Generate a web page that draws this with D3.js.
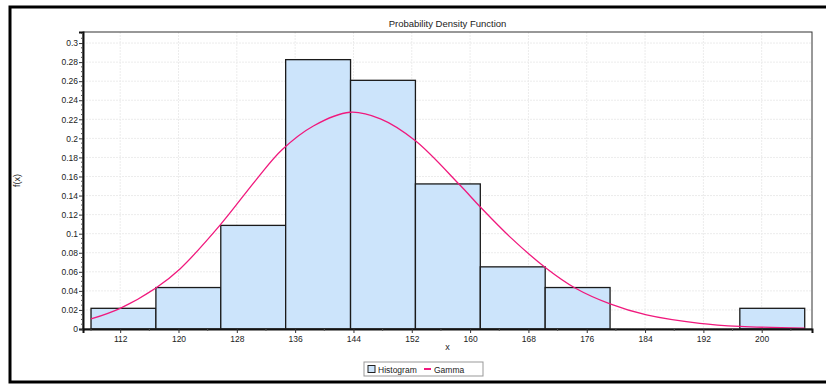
<!DOCTYPE html>
<html>
<head>
<meta charset="utf-8">
<script src="https://cdn.jsdelivr.net/npm/d3@7"></script>
<style>
  body { margin: 0; background: #fff; }
  svg text { font-family: "Liberation Sans", Arial, sans-serif; fill: #222; }
</style>
</head>
<body>
<div id="chart"></div>
<script>
// histogram bins (relative frequency) and fitted gamma curve
var binEdges = [108.0, 116.9, 125.8, 134.7, 143.6, 152.5, 161.4, 170.3, 179.2, 188.1, 197.0, 205.9];
var binValues = [0.0217, 0.0435, 0.1087, 0.2826, 0.2609, 0.1522, 0.0652, 0.0435, 0, 0, 0.0217];

var gammaX = [108.0, 112.0, 116.9, 120.2, 125.7, 130.7, 134.2, 138.5, 143.5, 147.7, 152.5, 158.6, 161.4, 165.5, 170.4, 174.4, 179.2, 184.2, 191.5, 197.0, 205.9];
var gammaY = [0.0105, 0.0217, 0.043, 0.063, 0.109, 0.157, 0.188, 0.213, 0.2274, 0.2205, 0.1975, 0.151, 0.128, 0.0964, 0.064, 0.043, 0.0263, 0.0147, 0.0059, 0.0027, 0.001];

var xTicks = [112, 120, 128, 136, 144, 152, 160, 168, 176, 184, 192, 200];
var yTicks = [0, 0.02, 0.04, 0.06, 0.08, 0.1, 0.12, 0.14, 0.16, 0.18, 0.2, 0.22, 0.24, 0.26, 0.28, 0.3];

var W = 826, H = 385;
var plot = {left: 83, top: 32, right: 812, bottom: 329};

var svg = d3.select("#chart").append("svg")
    .attr("width", W).attr("height", H);

// outer frame
svg.append("rect")
    .attr("x", 10).attr("y", 7)
    .attr("width", 830).attr("height", 375)
    .attr("fill", "#fff")
    .attr("stroke", "#000")
    .attr("stroke-width", 3);

var x = d3.scaleLinear().domain([106.9, 206.9]).range([plot.left, plot.right]);
var y = d3.scaleLinear().domain([0, 0.3116]).range([plot.bottom, plot.top]);

//grid
var grid = svg.append("g").attr("class", "grid");
grid.selectAll(".gx").data(xTicks).enter().append("line")
    .attr("x1", d => x(d)).attr("x2", d => x(d))
    .attr("y1", plot.top).attr("y2", plot.bottom)
    .attr("stroke", "#ececec").attr("stroke-dasharray", "2,1");
grid.selectAll(".gy").data(yTicks).enter().append("line")
    .attr("x1", plot.left).attr("x2", plot.right)
    .attr("y1", d => y(d)).attr("y2", d => y(d))
    .attr("stroke", "#ececec").attr("stroke-dasharray", "2,1");

// histogram bars
var bins = binValues.map(function(v, i) { return {x0: binEdges[i], x1: binEdges[i + 1], v: v}; });
svg.selectAll(".bar").data(bins).enter().append("rect")
    .attr("class", "bar")
    .attr("x", d => x(d.x0))
    .attr("y", d => y(d.v))
    .attr("width", d => x(d.x1) - x(d.x0))
    .attr("height", d => y(0) - y(d.v))
    .attr("fill", "#cce4fb")
    .attr("stroke", "#1a1a1a")
    .attr("stroke-width", 1.3);

// gamma curve
var line = d3.line()
    .x(d => x(d[0])).y(d => y(d[1]))
    .curve(d3.curveCatmullRom.alpha(0.5));
svg.append("path")
    .datum(gammaX.map((v, i) => [v, gammaY[i]]))
    .attr("d", line)
    .attr("fill", "none")
    .attr("stroke", "#f0197d")
    .attr("stroke-width", 1.3);

// plot border
svg.append("rect")
    .attr("x", plot.left).attr("y", plot.top)
    .attr("width", plot.right - plot.left).attr("height", plot.bottom - plot.top)
    .attr("fill", "none").attr("stroke", "#333").attr("stroke-width", 1);

// axes
var xAxis = d3.axisBottom(x).tickValues(xTicks).tickSize(4).tickPadding(3);
var gx = svg.append("g").attr("transform", "translate(0," + plot.bottom + ")").call(xAxis);
var yAxis = d3.axisLeft(y).tickValues(yTicks).tickSize(4).tickPadding(1)
    .tickFormat(d => d === 0 ? "0" : d3.format("")(+d.toFixed(2)));
var gy = svg.append("g").attr("transform", "translate(" + plot.left + ",0)").call(yAxis);

[gx, gy].forEach(function(g) {
    g.select(".domain").attr("stroke", "#111").attr("stroke-width", 2);
    g.selectAll(".tick line").attr("stroke", "#333");
    g.selectAll(".tick text").attr("font-size", 8.5).attr("fill", "#333");
});

// minor ticks
var xMinor = d3.range(108, 207, 4).filter(v => xTicks.indexOf(v) < 0);
svg.selectAll(".xminor").data(xMinor).enter().append("line")
    .attr("x1", d => x(d)).attr("x2", d => x(d))
    .attr("y1", plot.bottom).attr("y2", plot.bottom + 2)
    .attr("stroke", "#555");
var yMinor = d3.range(0, 0.311, 0.005).filter(v => Math.abs(v / 0.02 - Math.round(v / 0.02)) > 0.01);
svg.selectAll(".yminor").data(yMinor).enter().append("line")
    .attr("x1", plot.left - 2).attr("x2", plot.left)
    .attr("y1", d => y(d)).attr("y2", d => y(d))
    .attr("stroke", "#555");

// titles
svg.append("text")
    .attr("x", (plot.left + plot.right) / 2).attr("y", 27)
    .attr("text-anchor", "middle").attr("font-size", 9.5)
    .text("Probability Density Function");
svg.append("text")
    .attr("x", (plot.left + plot.right) / 2).attr("y", 350)
    .attr("text-anchor", "middle").attr("font-size", 9)
    .text("x");
svg.append("text")
    .attr("transform", "translate(20," + ((plot.top + plot.bottom) / 2) + ") rotate(-90)")
    .attr("text-anchor", "middle").attr("font-size", 9)
    .text("f(x)");

// legend
var lg = svg.append("g").attr("transform", "translate(364,362)");
lg.append("rect").attr("width", 119).attr("height", 14)
    .attr("fill", "#fff").attr("stroke", "#999");
lg.append("rect").attr("x", 4).attr("y", 3.5).attr("width", 7).attr("height", 7)
    .attr("fill", "#cce4fb").attr("stroke", "#222");
lg.append("text").attr("x", 14).attr("y", 10.5).attr("font-size", 8.5).text("Histogram");
lg.append("line").attr("x1", 60).attr("x2", 67).attr("y1", 7).attr("y2", 7)
    .attr("stroke", "#f0197d").attr("stroke-width", 2);
lg.append("text").attr("x", 70).attr("y", 10.5).attr("font-size", 8.5).text("Gamma");
</script>
</body>
</html>
